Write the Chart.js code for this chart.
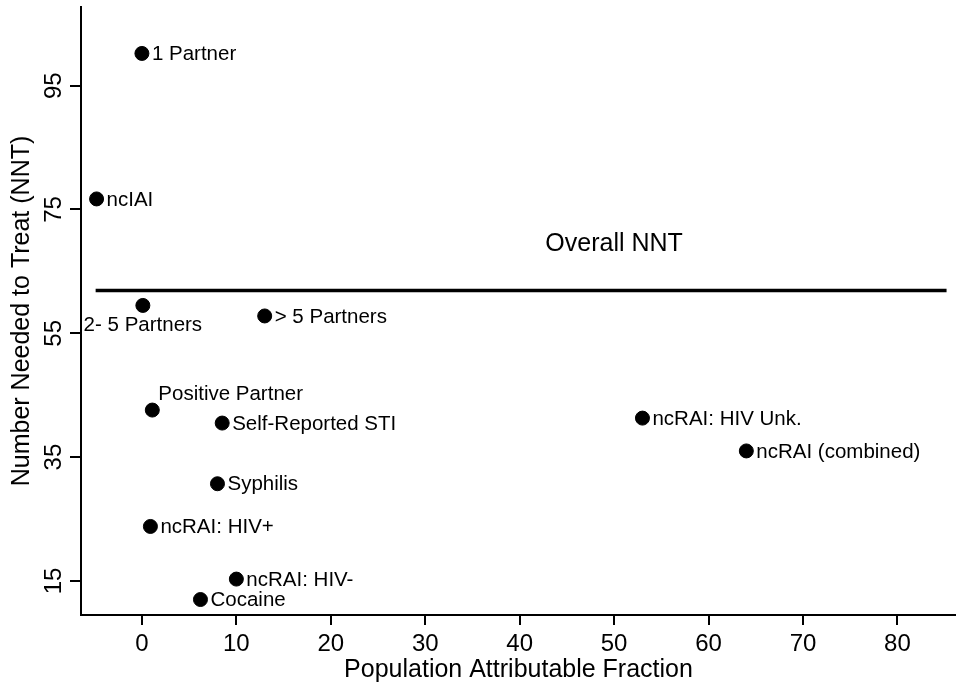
<!DOCTYPE html>
<html>
<head>
<meta charset="utf-8">
<script src="https://cdn.jsdelivr.net/npm/chart.js@4"></script>
<style>
  html, body { margin: 0; padding: 0; background: #fff; overflow: hidden; }
  canvas { display: block; }
</style>
</head>
<body>
<canvas id="nnt" width="956" height="688"></canvas>
<script>
// values
const factors = ['1 Partner', 'ncIAI', '2- 5 Partners', '> 5 Partners', 'Positive Partner',
  'Self-Reported STI', 'Syphilis', 'ncRAI: HIV+', 'ncRAI: HIV-', 'Cocaine',
  'ncRAI: HIV Unk.', 'ncRAI (combined)']
const paf = [0, -4.8, 0.1, 13.0, 1.1, 8.5, 8.0, 0.9, 10.0, 6.2, 53.0, 64.0]
const nnt = [100.2, 76.7, 59.5, 57.8, 42.6, 40.5, 30.7, 23.8, 15.3, 12.0, 41.3, 36.0]
const labelSide = ['right', 'right', 'below', 'right', 'above', 'right', 'right', 'right',
  'right', 'right', 'right', 'right']
const overallNNT = 61.9
const overallFrom = -4.9
const overallTo = 85.2
const xTicks = [0, 10, 20, 30, 40, 50, 60, 70, 80]
const yTicks = [15, 35, 55, 75, 95]

const FONT = '"Liberation Sans", Arial, Helvetica, sans-serif'

let points = []
for (let i = 0; i < factors.length; i++) {
  points.push({x: paf[i], y: nnt[i]})
}

const labelPlugin = {
  id: 'labels',
  afterDatasetsDraw(chart) {
    const ctx = chart.ctx
    const xs = chart.scales.x
    const ys = chart.scales.y
    ctx.save()
    ctx.fillStyle = '#000'
    // point labels
    ctx.font = '20.5px ' + FONT
    ctx.textBaseline = 'middle'
    points.forEach((p, i) => {
      const px = xs.getPixelForValue(p.x)
      const py = ys.getPixelForValue(p.y)
      if (labelSide[i] == 'below') {
        ctx.textAlign = 'center'
        ctx.fillText(factors[i], px, py + 20)
      } else if (labelSide[i] == 'above') {
        ctx.textAlign = 'left'
        ctx.fillText(factors[i], px + 6, py - 16)
      } else {
        ctx.textAlign = 'left'
        ctx.fillText(factors[i], px + 10, py + 1)
      }
    })
    // overall label
    ctx.font = '25px ' + FONT
    ctx.textAlign = 'center'
    ctx.fillText('Overall NNT', xs.getPixelForValue(50), ys.getPixelForValue(overallNNT) - 46)
    // vertical y tick labels
    ctx.font = '24px ' + FONT
    ctx.textAlign = 'center'
    ctx.textBaseline = 'alphabetic'
    yTicks.forEach(v => {
      const py = ys.getPixelForValue(v)
      ctx.save()
      ctx.translate(61, py)
      ctx.rotate(-Math.PI / 2)
      ctx.fillText(String(v), 0, 0)
      ctx.restore()
    })
    ctx.restore()
  }
}

const ctx = document.getElementById('nnt').getContext('2d')
new Chart(ctx, {
  type: 'scatter',
  data: {
    datasets: [
      {
        data: points,
        backgroundColor: '#000',
        borderColor: '#000',
        pointRadius: 7,
        pointHoverRadius: 7
      },
      {
        type: 'line',
        data: [{x: overallFrom, y: overallNNT}, {x: overallTo, y: overallNNT}],
        borderColor: '#000',
        borderWidth: 3.5,
        pointRadius: 0
      }
    ]
  },
  options: {
    responsive: false,
    animation: false,
    layout: { autoPadding: false, padding: { top: 7, right: 0, left: 0, bottom: 0 } },
    plugins: {
      legend: { display: false },
      tooltip: { enabled: false }
    },
    scales: {
      x: {
        type: 'linear',
        min: -6.45,
        max: 86.2,
        afterBuildTicks(scale) { scale.ticks = xTicks.map(v => ({value: v})) },
        afterFit(scale) {
          scale.height = 73
          scale.paddingLeft = 0
          scale.paddingRight = 0
        },
        border: { display: true, color: '#000', width: 2 },
        grid: { drawOnChartArea: false, drawTicks: true, tickLength: 10, color: '#000', lineWidth: 2 },
        ticks: { color: '#000', font: { family: FONT, size: 24 }, padding: 5, maxRotation: 0 },
        title: {
          display: true,
          text: 'Population Attributable Fraction',
          color: '#000',
          font: { family: FONT, size: 25, lineHeight: 1 },
          padding: { top: 0, bottom: 5 }
        }
      },
      y: {
        type: 'linear',
        min: 9.5,
        max: 107.7,
        afterBuildTicks(scale) { scale.ticks = yTicks.map(v => ({value: v})) },
        afterFit(scale) {
          scale.width = 81
          scale.paddingTop = 0
          scale.paddingBottom = 0
        },
        border: { display: true, color: '#000', width: 2 },
        grid: { drawOnChartArea: false, drawTicks: true, tickLength: 11, color: '#000', lineWidth: 2 },
        ticks: { display: false },
        title: {
          display: true,
          text: 'Number Needed to Treat (NNT)',
          color: '#000',
          font: { family: FONT, size: 25, lineHeight: 1 },
          padding: { top: 10, bottom: 0 }
        }
      }
    }
  },
  plugins: [labelPlugin]
})
</script>
</body>
</html>
